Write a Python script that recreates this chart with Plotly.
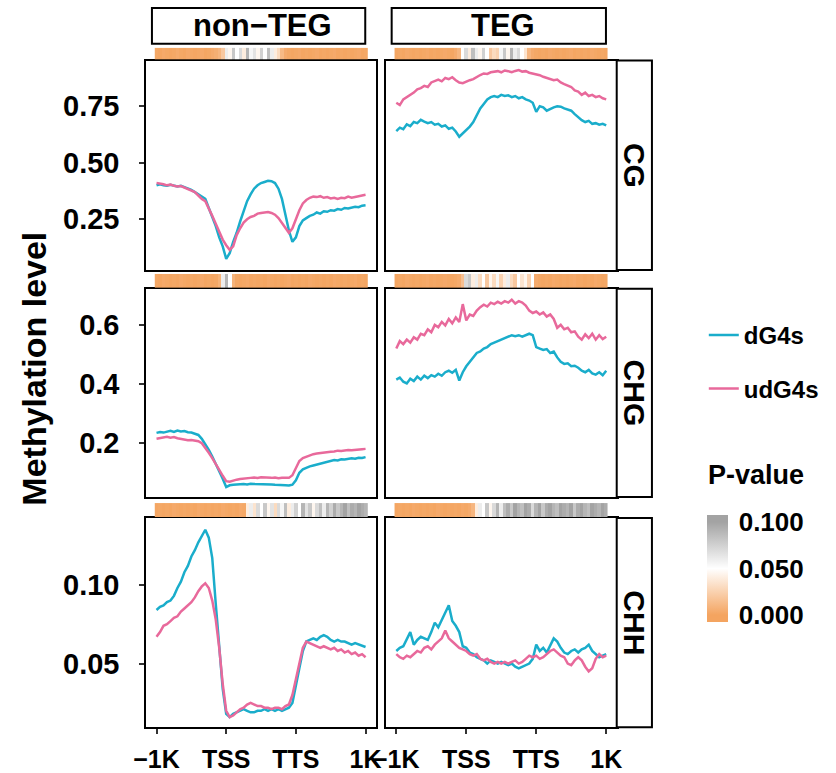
import plotly.graph_objects as go

W, H = 836, 773

# ---------------- data ----------------
bins = list(range(61))
xtick_vals = [0, 20, 40, 60]
xtick_text = ["\u22121K", "TSS", "TTS", "1K"]
contexts = ["CG", "CHG", "CHH"]
groups = ["non\u2212TEG", "TEG"]
series_names = ["dG4s", "udG4s"]

cg_non_dg4s = [0.400,0.405,0.400,0.398,0.402,0.397,0.395,0.398,0.392,0.388,
               0.380,0.370,0.360,0.350,0.340,0.300,0.260,0.220,0.170,0.130,
               0.075,0.100,0.150,0.190,0.240,0.290,0.330,0.360,0.385,0.400,
               0.410,0.415,0.420,0.418,0.410,0.385,0.340,0.270,0.200,0.150,
               0.170,0.220,0.245,0.255,0.265,0.270,0.280,0.275,0.285,0.283,
               0.290,0.288,0.295,0.292,0.300,0.298,0.302,0.305,0.303,0.310,
               0.312]
cg_non_udg4s = [0.410,0.408,0.405,0.400,0.403,0.398,0.395,0.397,0.390,0.385,
                0.378,0.370,0.355,0.340,0.330,0.300,0.265,0.230,0.195,0.160,
                0.135,0.115,0.130,0.180,0.210,0.235,0.250,0.260,0.265,0.275,
                0.278,0.280,0.282,0.278,0.270,0.255,0.235,0.210,0.190,0.210,
                0.250,0.290,0.320,0.335,0.345,0.350,0.348,0.352,0.345,0.348,
                0.342,0.345,0.340,0.345,0.343,0.350,0.345,0.350,0.352,0.355,
                0.358]
cg_teg_dg4s = [0.640,0.655,0.648,0.670,0.662,0.680,0.675,0.690,0.682,0.675,
               0.680,0.668,0.672,0.660,0.665,0.650,0.655,0.638,0.615,0.630,
               0.645,0.660,0.680,0.710,0.740,0.760,0.780,0.790,0.795,0.790,
               0.800,0.795,0.798,0.790,0.795,0.785,0.790,0.780,0.775,0.765,
               0.725,0.750,0.745,0.730,0.738,0.745,0.750,0.748,0.740,0.735,
               0.730,0.715,0.700,0.688,0.680,0.685,0.672,0.675,0.668,0.672,
               0.665]
cg_teg_udg4s = [0.765,0.755,0.780,0.790,0.800,0.810,0.825,0.830,0.840,0.835,
                0.855,0.860,0.868,0.860,0.875,0.870,0.878,0.865,0.855,0.852,
                0.860,0.865,0.870,0.880,0.888,0.895,0.893,0.900,0.902,0.905,
                0.900,0.908,0.905,0.900,0.906,0.910,0.903,0.905,0.898,0.895,
                0.890,0.887,0.880,0.875,0.870,0.865,0.868,0.855,0.848,0.840,
                0.835,0.820,0.815,0.800,0.810,0.795,0.800,0.790,0.795,0.785,
                0.780]
chg_non_dg4s = [0.235,0.238,0.236,0.240,0.242,0.238,0.243,0.240,0.241,0.237,
                0.236,0.232,0.228,0.215,0.198,0.178,0.155,0.130,0.108,0.080,
                0.052,0.058,0.060,0.061,0.060,0.062,0.061,0.063,0.062,0.062,
                0.061,0.063,0.062,0.061,0.060,0.060,0.059,0.058,0.057,0.060,
                0.075,0.100,0.112,0.118,0.122,0.125,0.128,0.130,0.135,0.138,
                0.140,0.143,0.142,0.146,0.145,0.148,0.149,0.148,0.151,0.150,
                0.153]
chg_non_udg4s = [0.215,0.218,0.220,0.222,0.219,0.221,0.217,0.215,0.213,0.210,
                 0.211,0.208,0.207,0.200,0.185,0.168,0.150,0.128,0.110,0.090,
                 0.072,0.070,0.074,0.077,0.079,0.081,0.082,0.083,0.084,0.083,
                 0.085,0.084,0.085,0.083,0.084,0.082,0.083,0.082,0.083,0.092,
                 0.115,0.140,0.150,0.155,0.160,0.163,0.165,0.167,0.168,0.170,
                 0.171,0.172,0.175,0.174,0.176,0.177,0.176,0.178,0.179,0.180,
                 0.181]
chg_teg_dg4s = [0.415,0.422,0.408,0.402,0.418,0.410,0.425,0.415,0.428,0.420,
                0.430,0.425,0.435,0.428,0.440,0.445,0.438,0.448,0.412,0.440,
                0.460,0.475,0.490,0.505,0.510,0.520,0.525,0.535,0.540,0.545,
                0.550,0.556,0.560,0.565,0.562,0.565,0.560,0.565,0.570,0.565,
                0.525,0.520,0.515,0.518,0.505,0.510,0.490,0.475,0.468,0.470,
                0.460,0.462,0.455,0.445,0.440,0.448,0.436,0.432,0.440,0.430,
                0.445]
chg_teg_udg4s = [0.520,0.545,0.535,0.550,0.540,0.558,0.550,0.570,0.565,0.585,
                 0.575,0.600,0.592,0.610,0.598,0.620,0.605,0.625,0.610,0.670,
                 0.615,0.635,0.630,0.648,0.660,0.668,0.662,0.675,0.670,0.678,
                 0.672,0.680,0.675,0.685,0.672,0.680,0.675,0.665,0.648,0.640,
                 0.645,0.635,0.642,0.628,0.635,0.620,0.590,0.600,0.585,0.590,
                 0.575,0.578,0.560,0.550,0.568,0.555,0.570,0.550,0.565,0.552,
                 0.560]
chh_non_dg4s = [0.084,0.086,0.087,0.089,0.090,0.093,0.098,0.102,0.108,0.112,
                0.118,0.122,0.127,0.131,0.135,0.130,0.117,0.088,0.058,0.034,
                0.018,0.016,0.018,0.019,0.020,0.021,0.020,0.019,0.019,0.020,
                0.020,0.021,0.020,0.021,0.020,0.021,0.020,0.021,0.022,0.025,
                0.035,0.047,0.058,0.064,0.065,0.066,0.065,0.067,0.068,0.067,
                0.065,0.064,0.065,0.064,0.064,0.063,0.062,0.063,0.062,0.061,
                0.0605]
chh_non_udg4s = [0.067,0.070,0.074,0.075,0.077,0.079,0.080,0.083,0.085,0.087,
                 0.089,0.092,0.096,0.099,0.101,0.098,0.090,0.078,0.060,0.037,
                 0.020,0.016,0.017,0.019,0.021,0.022,0.024,0.025,0.024,0.023,
                 0.023,0.022,0.022,0.021,0.022,0.022,0.021,0.023,0.024,0.030,
                 0.040,0.050,0.060,0.064,0.063,0.062,0.061,0.060,0.061,0.060,
                 0.059,0.060,0.058,0.059,0.057,0.058,0.056,0.057,0.055,0.056,
                 0.054]
chh_teg_dg4s = [0.058,0.060,0.061,0.066,0.070,0.062,0.065,0.067,0.066,0.065,
                0.070,0.076,0.073,0.078,0.082,0.087,0.077,0.074,0.070,0.061,
                0.060,0.057,0.056,0.054,0.053,0.052,0.050,0.052,0.051,0.050,
                0.051,0.050,0.049,0.050,0.048,0.047,0.048,0.049,0.050,0.053,
                0.062,0.058,0.060,0.057,0.062,0.066,0.064,0.060,0.057,0.056,
                0.058,0.059,0.057,0.059,0.060,0.062,0.058,0.056,0.054,0.055,
                0.056]
chh_teg_udg4s = [0.056,0.054,0.053,0.055,0.054,0.056,0.058,0.057,0.060,0.061,
                 0.059,0.062,0.064,0.066,0.071,0.066,0.064,0.062,0.060,0.059,
                 0.058,0.056,0.055,0.056,0.053,0.052,0.053,0.051,0.050,0.051,
                 0.050,0.051,0.050,0.051,0.052,0.050,0.051,0.053,0.055,0.054,
                 0.055,0.053,0.054,0.056,0.058,0.059,0.057,0.055,0.054,0.050,
                 0.049,0.052,0.054,0.052,0.048,0.045,0.047,0.053,0.056,0.054,
                 0.055]

pv_cg_non = [0.002,0.001,0.003,0.002,0.001,0.002,0.004,0.002,0.001,0.003,
             0.002,0.001,0.002,0.003,0.001,0.002,0.004,0.006,0.010,0.020,
             0.060,0.045,0.080,0.050,0.070,0.040,0.090,0.055,0.065,0.045,
             0.075,0.050,0.085,0.060,0.040,0.030,0.012,0.004,0.002,0.001,
             0.002,0.003,0.001,0.002,0.001,0.002,0.003,0.001,0.002,0.001,
             0.002,0.003,0.001,0.002,0.001,0.002,0.001,0.002,0.003,0.001,
             0.002]
pv_cg_teg = [0.001,0.002,0.001,0.003,0.002,0.001,0.002,0.001,0.002,0.003,
             0.001,0.002,0.001,0.002,0.003,0.002,0.001,0.004,0.010,0.050,
             0.070,0.040,0.085,0.060,0.045,0.075,0.050,0.020,0.030,0.025,
             0.055,0.080,0.045,0.090,0.060,0.070,0.050,0.035,0.010,0.004,
             0.002,0.001,0.002,0.001,0.003,0.002,0.001,0.002,0.001,0.002,
             0.003,0.001,0.002,0.001,0.002,0.001,0.003,0.002,0.001,0.002,
             0.001]
pv_chg_non = [0.002,0.001,0.003,0.002,0.001,0.002,0.001,0.003,0.002,0.001,
              0.002,0.001,0.002,0.003,0.001,0.002,0.001,0.002,0.008,0.060,
              0.090,0.050,0.008,0.002,0.001,0.002,0.003,0.001,0.002,0.001,
              0.002,0.001,0.003,0.002,0.001,0.002,0.001,0.002,0.003,0.001,
              0.002,0.001,0.002,0.001,0.003,0.002,0.001,0.002,0.001,0.002,
              0.001,0.003,0.002,0.001,0.002,0.001,0.002,0.003,0.001,0.002,
              0.001]
pv_chg_teg = [0.001,0.002,0.001,0.003,0.002,0.001,0.002,0.001,0.002,0.003,
              0.001,0.002,0.001,0.002,0.003,0.002,0.001,0.002,0.004,0.015,
              0.070,0.080,0.040,0.060,0.030,0.050,0.020,0.045,0.030,0.055,
              0.025,0.040,0.060,0.030,0.020,0.050,0.035,0.045,0.025,0.050,
              0.004,0.002,0.001,0.002,0.001,0.003,0.002,0.001,0.002,0.001,
              0.002,0.003,0.001,0.002,0.001,0.002,0.001,0.003,0.002,0.001,
              0.002]
pv_chh_non = [0.001,0.002,0.001,0.002,0.001,0.003,0.002,0.001,0.002,0.001,
              0.002,0.001,0.003,0.002,0.001,0.002,0.001,0.002,0.001,0.003,
              0.002,0.001,0.002,0.001,0.003,0.002,0.040,0.060,0.035,0.070,
              0.050,0.080,0.045,0.065,0.030,0.070,0.055,0.085,0.040,0.060,
              0.075,0.050,0.090,0.065,0.080,0.045,0.070,0.085,0.060,0.090,
              0.075,0.095,0.080,0.090,0.100,0.085,0.095,0.090,0.100,0.095,
              0.090]
pv_chh_teg = [0.001,0.002,0.001,0.002,0.001,0.003,0.002,0.001,0.002,0.001,
              0.002,0.001,0.003,0.002,0.001,0.002,0.001,0.002,0.001,0.003,
              0.002,0.004,0.010,0.040,0.060,0.050,0.080,0.045,0.070,0.090,
              0.060,0.085,0.095,0.080,0.100,0.090,0.085,0.100,0.095,0.070,
              0.090,0.100,0.080,0.095,0.100,0.090,0.085,0.100,0.095,0.090,
              0.100,0.080,0.095,0.100,0.090,0.085,0.100,0.095,0.090,0.100,
              0.095]

pvalue_ticks = [0.0, 0.05, 0.1]
pvalue_ticktext = ["0.000", "0.050", "0.100"]
pvalue_limits = [-0.0075, 0.1075]   # colour bar a little longer than the break range

yranges = [[0.026, 0.952], [0.018, 0.722], [0.0095, 0.1425]]
ytick_vals = [[0.25, 0.50, 0.75], [0.2, 0.4, 0.6], [0.05, 0.10]]
ytick_text = [["0.25", "0.50", "0.75"], ["0.2", "0.4", "0.6"], ["0.05", "0.10"]]

lines_table = {
    (0, 0): (cg_non_dg4s, cg_non_udg4s), (0, 1): (cg_teg_dg4s, cg_teg_udg4s),
    (1, 0): (chg_non_dg4s, chg_non_udg4s), (1, 1): (chg_teg_dg4s, chg_teg_udg4s),
    (2, 0): (chh_non_dg4s, chh_non_udg4s), (2, 1): (chh_teg_dg4s, chh_teg_udg4s),
}
pv_table = {
    (0, 0): pv_cg_non, (0, 1): pv_cg_teg,
    (1, 0): pv_chg_non, (1, 1): pv_chg_teg,
    (2, 0): pv_chh_non, (2, 1): pv_chh_teg,
}

# ---------------- styling / layout ----------------
FONT = "Arial, Liberation Sans, sans-serif"
COLORS = ["#1AADCB", "#E8699B"]
span = pvalue_limits[1] - pvalue_limits[0]
f0 = (0.0 - pvalue_limits[0]) / span
f5 = (0.05 - pvalue_limits[0]) / span
f10 = (0.1 - pvalue_limits[0]) / span
PV_SCALE = [[0.0, "#F4A460"], [f0, "#F4A460"], [f5, "#FFFFFF"],
            [f10, "#A3A3A3"], [1.0, "#A3A3A3"]]

col_px = [(136, 371), (381, 617)]
row_px = [(61, 272), (291, 501), (522, 733)]
strip_px = [(48, 60), (276, 290), (507, 521)]
top_box_px = [(142, 360), (387, 606)]
top_box_y = (8, 44)
right_box_x = (617, 653)


def fx(p):
    return p / W


def fy(p):
    return 1 - p / H


fig = go.Figure()
layout = dict(
    width=W, height=H, margin=dict(l=0, r=0, t=0, b=0),
    paper_bgcolor="white", plot_bgcolor="white",
    font=dict(family=FONT, color="black"),
    showlegend=True,
)

axis_line = dict(showline=True, mirror=True, linecolor="black", linewidth=1.6,
                 showgrid=False, zeroline=False)

for r in range(3):
    for c in range(2):
        idx = r * 2 + c + 1
        sfx = "" if idx == 1 else str(idx)
        xa = dict(axis_line, domain=[fx(col_px[c][0]), fx(col_px[c][1])],
                  range=[-3, 63], anchor="y" + sfx,
                  tickvals=xtick_vals, ticktext=xtick_text)
        if r == 2:
            xa.update(ticks="outside", ticklen=5, tickwidth=1.5, tickcolor="#333",
                      showticklabels=True, ticklabelstandoff=4,
                      tickfont=dict(family=FONT, size=25, weight="bold", color="black"))
        else:
            xa.update(ticks="", showticklabels=False)
        ya = dict(axis_line, domain=[fy(row_px[r][1]), fy(row_px[r][0])],
                  range=yranges[r], anchor="x" + sfx,
                  tickvals=ytick_vals[r], ticktext=ytick_text[r])
        if c == 0:
            ya.update(ticks="outside", ticklen=5, tickwidth=1.5, tickcolor="#333",
                      showticklabels=True, ticklabelstandoff=14,
                      tickfont=dict(family=FONT, size=29, weight="bold", color="black"))
        else:
            ya.update(ticks="", showticklabels=False)
        layout["xaxis" + sfx] = xa
        layout["yaxis" + sfx] = ya

        dvals, uvals = lines_table[(r, c)]
        for k, vals in enumerate((dvals, uvals)):
            fig.add_trace(go.Scatter(
                x=bins, y=vals, mode="lines",
                line=dict(color=COLORS[k], width=2.5),
                name=series_names[k],
                legend="legend" if k == 0 else "legend2",
                showlegend=(r == 0 and c == 0),
                xaxis="x" + sfx, yaxis="y" + sfx,
            ))

        # p-value strip above the panel
        sidx = 6 + idx
        layout["xaxis" + str(sidx)] = dict(domain=[fx(col_px[c][0]), fx(col_px[c][1])],
                                           range=[-3, 63], visible=False,
                                           anchor="y" + str(sidx))
        layout["yaxis" + str(sidx)] = dict(domain=[fy(strip_px[r][1]), fy(strip_px[r][0])],
                                           range=[-0.5, 0.5], visible=False,
                                           anchor="x" + str(sidx))
        hm = dict(z=[pv_table[(r, c)]], x=bins, y=[0],
                  zmin=pvalue_limits[0], zmax=pvalue_limits[1],
                  colorscale=PV_SCALE, xaxis="x" + str(sidx), yaxis="y" + str(sidx),
                  showscale=(idx == 1), hoverinfo="skip")
        if idx == 1:
            hm["colorbar"] = dict(
                thickness=21, len=107, lenmode="pixels",
                x=fx(709), xanchor="left", y=fy(627), yanchor="bottom",
                xpad=0, ypad=0, outlinewidth=0,
                tickvals=pvalue_ticks, ticktext=pvalue_ticktext,
                ticks="outside", ticklen=6, tickcolor="rgba(0,0,0,0)",
                tickfont=dict(family=FONT, size=26, weight="bold", color="black"),
            )
        fig.add_trace(go.Heatmap(**hm))

shapes = []
annotations = []
# top strips
for c in range(2):
    shapes.append(dict(type="rect", xref="paper", yref="paper",
                       x0=fx(top_box_px[c][0]), x1=fx(top_box_px[c][1]),
                       y0=fy(top_box_y[1]), y1=fy(top_box_y[0]),
                       line=dict(color="black", width=2), fillcolor="white", layer="above"))
    annotations.append(dict(text=groups[c], xref="paper", yref="paper",
                            x=fx((top_box_px[c][0] + top_box_px[c][1]) / 2 + 4),
                            y=fy((top_box_y[0] + top_box_y[1]) / 2),
                            showarrow=False, xanchor="center", yanchor="middle",
                            font=dict(family=FONT, size=31, weight="bold", color="black")))
# right strips
for r in range(3):
    shapes.append(dict(type="rect", xref="paper", yref="paper",
                       x0=fx(right_box_x[0]), x1=fx(right_box_x[1]),
                       y0=fy(row_px[r][1]), y1=fy(row_px[r][0]),
                       line=dict(color="black", width=2), fillcolor="white", layer="above"))
    annotations.append(dict(text=contexts[r], xref="paper", yref="paper",
                            x=fx((right_box_x[0] + right_box_x[1]) / 2),
                            y=fy((row_px[r][0] + row_px[r][1]) / 2),
                            textangle=90, showarrow=False,
                            xanchor="center", yanchor="middle",
                            font=dict(family=FONT, size=30, weight="bold", color="black")))
# y axis title
annotations.append(dict(text="Methylation level", xref="paper", yref="paper",
                        x=fx(22), y=fy(372), textangle=-90, showarrow=False,
                        xanchor="center", yanchor="middle",
                        font=dict(family=FONT, size=34, weight="bold", color="black")))
# colour legend title
annotations.append(dict(text="P-value", xref="paper", yref="paper",
                        x=fx(708), y=fy(479), showarrow=False,
                        xanchor="left", yanchor="middle",
                        font=dict(family=FONT, size=27, weight="bold", color="black")))

layout["shapes"] = shapes
layout["annotations"] = annotations
leg_common = dict(xanchor="left", yanchor="middle", bgcolor="rgba(0,0,0,0)",
                  borderwidth=0, itemwidth=30,
                  font=dict(family=FONT, size=24, weight="bold", color="black"))
layout["legend"] = dict(leg_common, x=fx(706), y=fy(338))
layout["legend2"] = dict(leg_common, x=fx(706), y=fy(392))

fig.update_layout(**layout)
fig.write_html("out.html", config={"displayModeBar": False},
               post_script="document.body.style.margin='0';")
